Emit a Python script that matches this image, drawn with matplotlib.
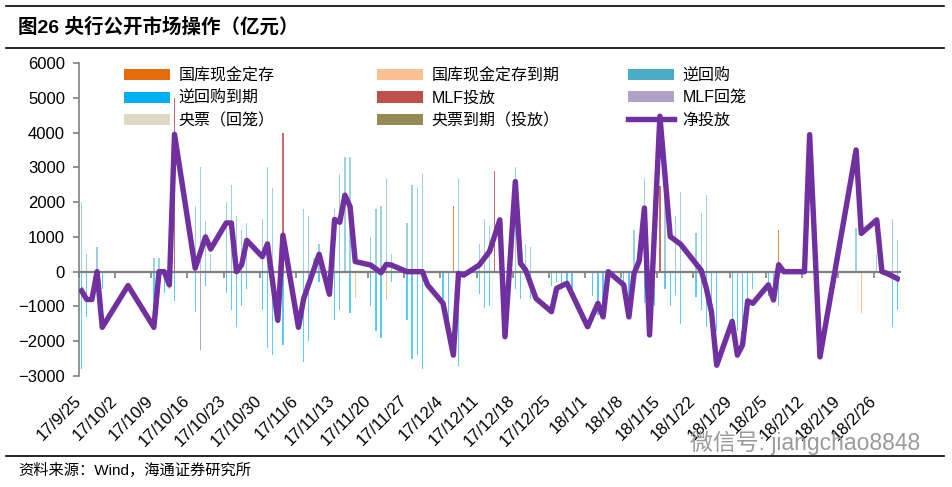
import numpy as np
import pandas as pd
import matplotlib
matplotlib.use('Agg')
import matplotlib.pyplot as plt
from matplotlib.lines import Line2D
from matplotlib.patches import Patch

plt.rcParams['font.family'] = ['Liberation Sans', 'Noto Sans CJK SC', 'DejaVu Sans']

# 净投放（亿元）
net_dates = ['2017-09-25', '2017-09-26', '2017-09-27', '2017-09-28', '2017-09-29', '2017-10-04',
             '2017-10-09', '2017-10-10', '2017-10-11', '2017-10-12', '2017-10-13', '2017-10-17',
             '2017-10-19', '2017-10-20', '2017-10-23', '2017-10-24', '2017-10-25', '2017-10-26',
             '2017-10-27', '2017-10-30', '2017-10-31', '2017-11-02', '2017-11-03', '2017-11-06',
             '2017-11-07', '2017-11-10', '2017-11-12', '2017-11-13', '2017-11-14', '2017-11-15',
             '2017-11-16', '2017-11-17', '2017-11-20', '2017-11-22', '2017-11-23', '2017-11-24',
             '2017-11-27', '2017-11-28', '2017-11-29', '2017-11-30', '2017-12-01', '2017-12-04',
             '2017-12-06', '2017-12-07', '2017-12-08', '2017-12-11', '2017-12-13', '2017-12-15',
             '2017-12-16', '2017-12-18', '2017-12-19', '2017-12-20', '2017-12-22', '2017-12-25',
             '2017-12-26', '2017-12-28', '2018-01-01', '2018-01-03', '2018-01-04', '2018-01-05',
             '2018-01-08', '2018-01-09', '2018-01-10', '2018-01-11', '2018-01-12', '2018-01-13',
             '2018-01-15', '2018-01-17', '2018-01-19', '2018-01-23', '2018-01-24', '2018-01-25',
             '2018-01-26', '2018-01-29', '2018-01-30', '2018-01-31', '2018-02-01', '2018-02-02',
             '2018-02-05', '2018-02-06', '2018-02-07', '2018-02-08', '2018-02-09', '2018-02-12',
             '2018-02-13', '2018-02-15', '2018-02-22', '2018-02-23', '2018-02-26', '2018-02-27',
             '2018-02-28', '2018-03-02']
net_values = [-550, -800, -800, 0, -1600, -400,
              -1600, 0, 0, -380, 3950, 100,
              1000, 650, 1400, 1400, 0, 200,
              900, 430, 800, -1400, 1050, -1600,
              -780, 500, -650, 1500, 1420, 2200,
              1870, 290, 190, -30, 210, 190,
              0, 0, 0, 0, -380, -910,
              -2400, -50, -100, 190, 580, 1490,
              -1870, 2590, 240, 50, -770, -1150,
              -480, -335, -1585, -910, -1300, 0,
              -380, -1300, -50, 310, 1830, -1820,
              4470, 1010, 790, 40, -480, -1170,
              -2690, -1430, -2400, -2110, -840, -910,
              -380, -815, 200, 0, 0, 0,
              3940, -2450, 3500, 1100, 1490, 0,
              -50, -200]

# 逆回购 / 逆回购到期
rr_dates = ['2017-09-25', '2017-09-26', '2017-09-28', '2017-09-29', '2017-10-09', '2017-10-10',
            '2017-10-11', '2017-10-12', '2017-10-13', '2017-10-17', '2017-10-18', '2017-10-19',
            '2017-10-20', '2017-10-23', '2017-10-24', '2017-10-25', '2017-10-26', '2017-10-27',
            '2017-10-30', '2017-10-31', '2017-11-01', '2017-11-03', '2017-11-07', '2017-11-08',
            '2017-11-09', '2017-11-10', '2017-11-13', '2017-11-14', '2017-11-15', '2017-11-16',
            '2017-11-20', '2017-11-21', '2017-11-22', '2017-11-23', '2017-11-24', '2017-11-27',
            '2017-11-28', '2017-11-29', '2017-11-30', '2017-12-04', '2017-12-05', '2017-12-07',
            '2017-12-11', '2017-12-12', '2017-12-13', '2017-12-15', '2017-12-18', '2017-12-19',
            '2017-12-20', '2017-12-21', '2017-12-25', '2017-12-26', '2017-12-27', '2017-12-28',
            '2017-12-29', '2018-01-02', '2018-01-03', '2018-01-04', '2018-01-08', '2018-01-09',
            '2018-01-10', '2018-01-12', '2018-01-14', '2018-01-16', '2018-01-17', '2018-01-18',
            '2018-01-19', '2018-01-22', '2018-01-23', '2018-01-24', '2018-01-25', '2018-01-26',
            '2018-01-29', '2018-01-30', '2018-01-31', '2018-02-01', '2018-02-02', '2018-02-05',
            '2018-02-06', '2018-02-07', '2018-02-22', '2018-02-26', '2018-03-01', '2018-03-02']
rr_in = [2000, 500, 700, 0, 400, 400,
         0, 0, 0, 1900, 3000, 1450,
         500, 2000, 2500, 1600, 1200, 1400,
         1500, 3000, 2400, 0, 1800, 1600,
         400, 800, 1800, 2800, 3300, 3300,
         1000, 1800, 1900, 2700, 500, 1400,
         2500, 2400, 2800, 0, 0, 2700,
         800, 1500, 1300, 1000, 3000, 0,
         800, 700, 0, 0, 0, 0,
         0, 0, 0, 0, 0, 0,
         1200, 2700, 1500, 2300, 0, 1600,
         2300, 1100, 1700, 2200, 0, 0,
         0, 0, 0, 0, 0, 0,
         0, 0, 1250, 500, 1500, 900]
rr_out = [-2800, -1300, -300, -500, -1100, 0,
          -600, -500, -850, -1150, -300, -400,
          0, -600, -1100, -1600, -1000, -500,
          -1100, -2200, -2400, -2100, -2600, -2000,
          0, -300, -1400, -1100, 0, -1200,
          -1000, -1700, -1900, 0, -300, -1400,
          -2500, -2400, -2800, -800, -1400, -2700,
          -650, -1050, -1000, 0, -500, -800,
          0, -800, -400, -300, -450, -350,
          -700, -700, -1250, -1000, -700, -700,
          -500, -900, -1000, -500, -1000, -670,
          -1500, -720, -1100, -1600, -1300, -1700,
          -1500, -1700, -1750, -800, -500, -700,
          -800, -1000, 0, 0, -1600, -1100]

# 国库现金定存 / 到期
td_dates = ['2017-12-06', '2018-02-07']
td_in = [1900, 1200]
td_out_dates = ['2017-11-17', '2017-11-23', '2018-02-23']
td_out = [-770, -820, -1200]

# MLF投放 / 回笼
mlf_dates = ['2017-10-13', '2017-11-03', '2017-12-14', '2018-01-15']
mlf_in = [5000, 4000, 2900, 2450]
mlf_out_dates = ['2017-10-18']
mlf_out = [-2260]

start = pd.Timestamp('2017-09-25')
tick_dates = pd.date_range('2017-09-25', '2018-02-26', freq='7D')
tick_labels = [f'{d.year % 100}/{d.month}/{d.day}' for d in tick_dates]


def pos(dates):
    return (pd.to_datetime(dates) - start).days.values + 0.5


colors = {
    '国库现金定存': '#E46C0A',
    '国库现金定存到期': '#FAC090',
    '逆回购': '#4BACC6',
    '逆回购到期': '#00B0F0',
    'MLF投放': '#C0504D',
    'MLF回笼': '#B3A2C7',
    '央票（回笼）': '#DDD9C3',
    '央票到期（投放）': '#948A54',
    '净投放': '#7030A0',
}

fig = plt.figure(figsize=(9.53, 4.87), dpi=100)
ax = fig.add_axes([79 / 953, 1 - 376 / 487, 821 / 953, 313 / 487])

bw = 0.25
ax.bar(pos(rr_dates), rr_in, width=bw, color=colors['逆回购'], alpha=0.55, linewidth=0)
ax.bar(pos(rr_dates), rr_out, width=bw, color=colors['逆回购到期'], alpha=0.65, linewidth=0)
ax.bar(pos(td_dates), td_in, width=bw, color=colors['国库现金定存'], alpha=0.8, linewidth=0)
ax.bar(pos(td_out_dates), td_out, width=bw, color=colors['国库现金定存到期'], linewidth=0)
ax.bar(pos(mlf_dates), mlf_in, width=bw, color=colors['MLF投放'], alpha=0.85, linewidth=0)
ax.bar(pos(mlf_out_dates), mlf_out, width=bw, color=colors['MLF回笼'], linewidth=0)

ax.plot(pos(net_dates), net_values, color=colors['净投放'], lw=3.9, solid_joinstyle='round', zorder=5)

ax.set_xlim(0, 159)
ax.set_ylim(-3000, 6000)
ax.set_yticks(np.arange(-3000, 6001, 1000))
ax.tick_params(axis='y', labelsize=12, direction='out', length=4, color='#808080', width=1.2, pad=6)
ax.spines['left'].set_color('#808080')
ax.spines['left'].set_linewidth(1.2)
ax.spines['top'].set_visible(False)
ax.spines['right'].set_visible(False)
ax.spines['bottom'].set_position(('data', 0))
ax.spines['bottom'].set_color('#808080')
ax.spines['bottom'].set_linewidth(1.6)
ax.set_xticks(np.arange(0, 159, 7))
ax.tick_params(axis='x', labelbottom=False, direction='out', length=4, color='#808080', width=1.2)

sec = ax.secondary_xaxis(0)
sec.set_xticks((tick_dates - start).days.values)
sec.set_xticklabels(tick_labels)
sec.tick_params(axis='x', length=0, labelsize=12, pad=16)
sec.spines['bottom'].set_visible(False)
for lab in sec.get_xticklabels():
    lab.set_rotation(45)
    lab.set_ha('right')
    lab.set_va('center')
    lab.set_rotation_mode('anchor')

# 图例：三列，按行排列
names = [['国库现金定存', '逆回购到期', '央票（回笼）'],
         ['国库现金定存到期', 'MLF投放', '央票到期（投放）'],
         ['逆回购', 'MLF回笼', '净投放']]
xs = [124 / 953, 377 / 953, 628 / 953]
for col, x0 in zip(names, xs):
    handles = []
    for n in col:
        if n == '净投放':
            handles.append(Line2D([], [], color=colors[n], lw=3.9))
        else:
            handles.append(Patch(facecolor=colors[n], edgecolor='none'))
    fig.legend(handles, col, loc='upper left', bbox_to_anchor=(x0, 1 - 68 / 487),
               frameon=False, fontsize=11.5, borderpad=0, borderaxespad=0,
               handlelength=2.9, handleheight=0.7, handletextpad=0.5, labelspacing=0.45)

# 标题、分隔线、来源
fig.add_artist(Line2D([6 / 953, 944 / 953], [1 - 6 / 487, 1 - 6 / 487], color='black', lw=1.2))
fig.add_artist(Line2D([6 / 953, 944 / 953], [1 - 48 / 487, 1 - 48 / 487], color='black', lw=1.2))
fig.add_artist(Line2D([6 / 953, 944 / 953], [1 - 456 / 487, 1 - 456 / 487], color='black', lw=1.2))
fig.text(18 / 953, 1 - 27 / 487, '图26 央行公开市场操作（亿元）', fontsize=14, fontweight='bold',
         va='center', ha='left')
fig.text(18 / 953, 1 - 470 / 487, '资料来源：Wind，海通证券研究所', fontsize=11, va='center', ha='left')
fig.text(690 / 953, 1 - 443 / 487, '微信号: jiangchao8848', fontsize=16.5, color='#9a9a9a',
         va='center', ha='left')

fig.savefig('out.png', dpi=100)
